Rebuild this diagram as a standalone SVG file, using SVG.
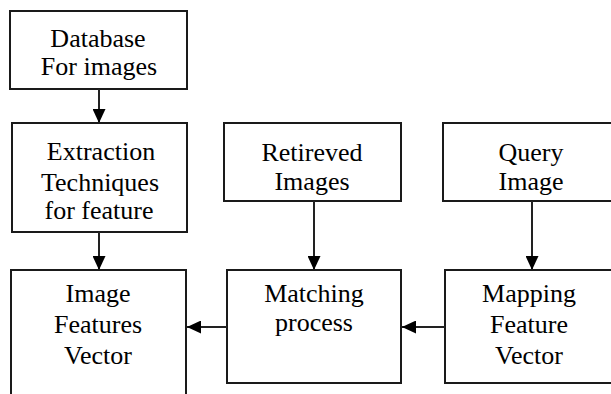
<svg xmlns="http://www.w3.org/2000/svg" width="611" height="394" viewBox="0 0 611 394">
<defs>
<marker id="ah" viewBox="0 0 14 13" refX="14" refY="6.5" markerWidth="14" markerHeight="13" markerUnits="userSpaceOnUse" orient="auto">
<path d="M0,0 L14,6.5 L0,13 Z" fill="#000"/>
</marker>
</defs>
<rect width="611" height="394" fill="#fff"/>
<g id="database">
<rect x="10" y="11" width="177" height="78" fill="#fff" stroke="#1a1a1a" stroke-width="2"/>
<text x="98" y="47" font-family="Liberation Serif" font-size="26" text-anchor="middle">Database</text>
<text x="99" y="75" font-family="Liberation Serif" font-size="26" text-anchor="middle">For images</text>
</g>
<g id="extraction">
<rect x="12" y="123" width="175" height="109" fill="#fff" stroke="#1a1a1a" stroke-width="2"/>
<text x="101" y="160" font-family="Liberation Serif" font-size="26" text-anchor="middle">Extraction</text>
<text x="100" y="191" font-family="Liberation Serif" font-size="26" text-anchor="middle">Techniques</text>
<text x="99" y="219" font-family="Liberation Serif" font-size="26" text-anchor="middle">for feature</text>
</g>
<g id="retrieved">
<rect x="224" y="123" width="177" height="78" fill="#fff" stroke="#1a1a1a" stroke-width="2"/>
<text x="312" y="161" font-family="Liberation Serif" font-size="26" text-anchor="middle">Retireved</text>
<text x="312" y="190" font-family="Liberation Serif" font-size="26" text-anchor="middle">Images</text>
</g>
<g id="query">
<rect x="443" y="123" width="180" height="78" fill="#fff" stroke="#1a1a1a" stroke-width="2"/>
<text x="531" y="161" font-family="Liberation Serif" font-size="26" text-anchor="middle">Query</text>
<text x="531" y="190" font-family="Liberation Serif" font-size="26" text-anchor="middle">Image</text>
</g>
<g id="image-features">
<rect x="11" y="270" width="175" height="140" fill="#fff" stroke="#1a1a1a" stroke-width="2"/>
<text x="98" y="302" font-family="Liberation Serif" font-size="26" text-anchor="middle">Image</text>
<text x="98" y="333" font-family="Liberation Serif" font-size="26" text-anchor="middle">Features</text>
<text x="98" y="364" font-family="Liberation Serif" font-size="26" text-anchor="middle">Vector</text>
</g>
<g id="matching">
<rect x="227" y="270" width="174" height="113" fill="#fff" stroke="#1a1a1a" stroke-width="2"/>
<text x="314" y="302" font-family="Liberation Serif" font-size="26" text-anchor="middle">Matching</text>
<text x="314" y="331" font-family="Liberation Serif" font-size="26" text-anchor="middle">process</text>
</g>
<g id="mapping">
<rect x="445" y="270" width="180" height="113" fill="#fff" stroke="#1a1a1a" stroke-width="2"/>
<text x="529" y="302" font-family="Liberation Serif" font-size="26" text-anchor="middle">Mapping</text>
<text x="529" y="333" font-family="Liberation Serif" font-size="26" text-anchor="middle">Feature</text>
<text x="529" y="364" font-family="Liberation Serif" font-size="26" text-anchor="middle">Vector</text>
</g>
<g id="connectors" stroke="#222" stroke-width="2" fill="none" marker-end="url(#ah)">
<line x1="99" y1="89" x2="99" y2="123"/>
<line x1="99" y1="232" x2="99" y2="270"/>
<line x1="314" y1="201" x2="314" y2="270"/>
<line x1="532" y1="201" x2="532" y2="270"/>
<line x1="227" y1="327" x2="187" y2="327"/>
<line x1="445" y1="327" x2="402" y2="327"/>
</g>
</svg>
